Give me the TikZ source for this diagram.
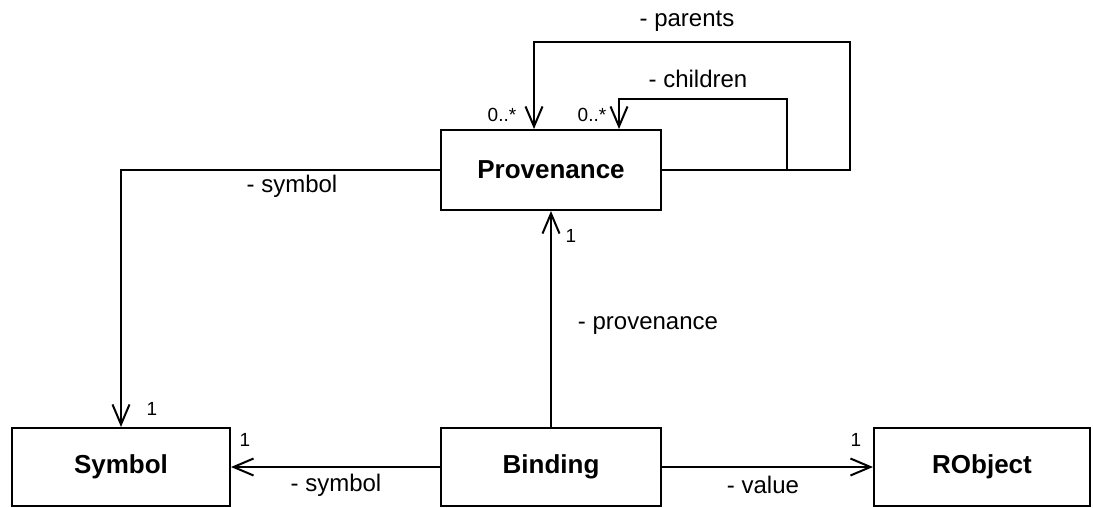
\documentclass[tikz,border=0pt]{standalone}
\usepackage{fontspec}
\setmainfont{Liberation Sans}
\usetikzlibrary{arrows.meta}
\begin{document}
\begin{tikzpicture}[x=1pt,y=-1pt,
  classbox/.style={draw, line width=2pt, inner sep=0pt, minimum height=78pt,
    font=\fontsize{26}{30}\selectfont\bfseries},
  assoc/.style={line width=2pt, -{Straight Barb[length=20pt,width=17pt,line width=2pt]}},
  role/.style={inner sep=0pt, font=\fontsize{24}{28}\selectfont},
  mult/.style={inner sep=0pt, font=\fontsize{19}{22}\selectfont}]
\useasboundingbox (0,0) rectangle (1093,507);

% classes
\node[classbox, minimum width=220pt, minimum height=80pt] (prov) at (551,170) {Provenance};
\node[classbox, minimum width=218pt] (sym) at (121,467) {Symbol};
\node[classbox, minimum width=220pt] (bind) at (551,467) {Binding};
\node[classbox, minimum width=216pt] (robj) at (982,467) {RObject};

% self associations of Provenance
\coordinate (parR) at (850,42);
\coordinate (parL) at (534,42);
\coordinate (chiR) at (787,99);
\coordinate (chiL) at (619,99);
\draw[assoc] (prov.east) -| (parR) -- (parL) -- (prov.north -| parL);
\draw[assoc] (prov.east) -| (chiR) -- (chiL) -- (prov.north -| chiL);

% other associations
\draw[assoc] (prov.west) -| (sym.north);
\draw[assoc] (bind.north) -- (prov.south);
\draw[assoc] (bind.west) -- (sym.east);
\draw[assoc] (bind.east) -- (robj.west);

% role names
\node[role] (lparents) at (687,21) {- parents};
\node[role] (lchildren) at (698,79) {- children};
\node[role] (lsym1) at (292,186) {- symbol};
\node[role] (lprov) at (648,326) {- provenance};
\node[role] (lsym2) at (336,485) {- symbol};
\node[role] (lval) at (763,485) {- value};

% multiplicities
\node[mult] (mpar) at (502,115) {0..*};
\node[mult] (mchi) at (592,115) {0..*};
\node[mult] (mprov) at (571,236) {1};
\node[mult] (msym1) at (152,409) {1};
\node[mult] (msym2) at (245,440) {1};
\node[mult] (mval) at (856,440) {1};
\end{tikzpicture}
\end{document}
